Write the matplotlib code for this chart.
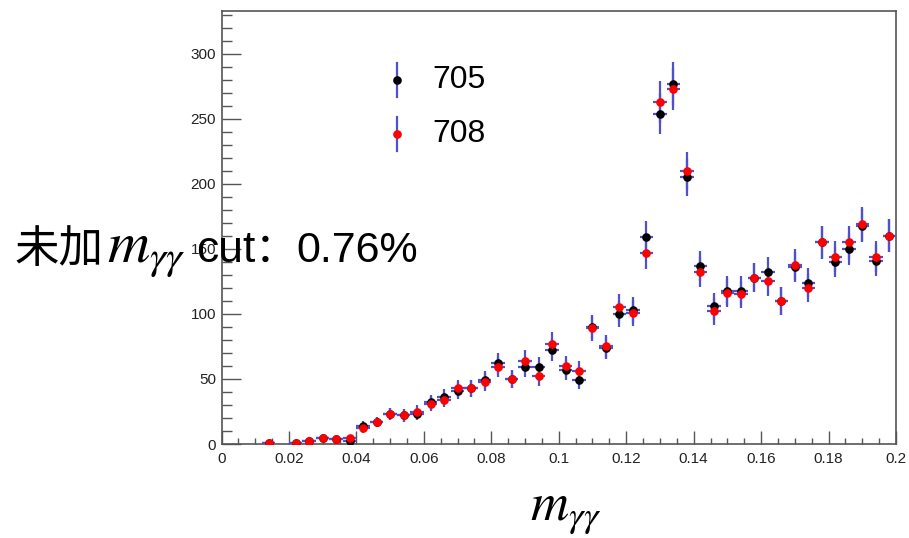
import numpy as np
import matplotlib
matplotlib.use('Agg')
import matplotlib.pyplot as plt
from matplotlib.ticker import MultipleLocator, FuncFormatter

plt.rcParams['mathtext.fontset'] = 'stix'

# bin centres (bin width 0.004)
x = [0.014, 0.022, 0.026, 0.030, 0.034, 0.038, 0.042, 0.046, 0.050, 0.054,
     0.058, 0.062, 0.066, 0.070, 0.074, 0.078, 0.082, 0.086, 0.090, 0.094,
     0.098, 0.102, 0.106, 0.110, 0.114, 0.118, 0.122, 0.126, 0.130, 0.134,
     0.138, 0.142, 0.146, 0.150, 0.154, 0.158, 0.162, 0.166, 0.170, 0.174,
     0.178, 0.182, 0.186, 0.190, 0.194, 0.198]

counts_705 = [1, 1, 2, 5, 4, 2, 14, 17, 23, 22,
              23, 32, 36, 41, 43, 49, 62, 50, 59, 59,
              72, 57, 49, 90, 74, 100, 103, 159, 254, 277,
              205, 137, 106, 118, 118, 128, 132, 110, 136, 124,
              155, 140, 150, 168, 141, 160]

counts_708 = [1, 1, 2, 5, 4, 5, 12, 17, 23, 22,
              25, 31, 34, 43, 43, 48, 59, 50, 64, 52,
              77, 60, 56, 89, 75, 105, 101, 147, 263, 273,
              210, 132, 102, 116, 115, 128, 125, 110, 138, 120,
              155, 144, 155, 169, 144, 160]

bin_width = 0.004
labels = ['705', '708']

fig = plt.figure(figsize=(9.09, 5.38), dpi=100)
ax = fig.add_axes([0.2437, 0.1747, 0.9857 - 0.2437, 0.9796 - 0.1747])

err_col = '#5050cc'
for yv, col in [(counts_705, 'black'), (counts_708, 'red')]:
    yv = np.array(yv, dtype=float)
    ax.errorbar(x, yv, yerr=np.sqrt(yv), xerr=bin_width / 2, fmt='o',
                color=col, markersize=5.2, ecolor=err_col, elinewidth=1.6,
                capsize=0, zorder=3)

ax.set_xlim(0, 0.2)
ax.set_ylim(0, 333)

# ROOT-like axes
ax.xaxis.set_major_locator(MultipleLocator(0.02))
ax.xaxis.set_minor_locator(MultipleLocator(0.005))
ax.yaxis.set_major_locator(MultipleLocator(50))
ax.yaxis.set_minor_locator(MultipleLocator(10))
ax.xaxis.set_major_formatter(FuncFormatter(lambda v, p: '%g' % round(v, 3)))
ax.tick_params(axis='x', which='major', direction='in', length=9.5, width=1,
               color='#555555', labelsize=11, pad=6, labelcolor='#222222')
ax.tick_params(axis='x', which='minor', direction='in', length=4.6, width=1,
               color='#555555')
ax.tick_params(axis='y', which='major', direction='in', length=14, width=1,
               color='#555555', labelsize=11, pad=4, labelcolor='#222222')
ax.tick_params(axis='y', which='minor', direction='in', length=7, width=1,
               color='#555555')
for lab in ax.get_xticklabels() + ax.get_yticklabels():
    lab.set_fontfamily('Liberation Sans')
for s in ax.spines.values():
    s.set_color('#555555')
    s.set_linewidth(1.2)

# legend drawn by hand, ROOT style
for i, (lab, col) in enumerate(zip(labels, ['black', 'red'])):
    yy = 0.8406 - i * 0.1247
    ax.plot([0.260, 0.260], [yy - 0.039, yy + 0.039], color=err_col, lw=1.6,
            transform=ax.transAxes)
    ax.plot([0.260], [yy], 'o', color=col, markersize=5.2, transform=ax.transAxes)
    ax.text(0.312, yy, lab, transform=ax.transAxes, fontsize=23,
            family='Liberation Sans', va='center', ha='left')

fig.text(566 / 909, 1 - 510 / 538, r'$m_{\gamma\gamma}$', fontsize=38,
         ha='center', va='center')

# overlay note, built piece by piece so each part can have its own font
latin = ['Liberation Sans', 'DejaVu Sans']
cjk = ['Noto Sans CJK SC', 'DejaVu Sans']
pieces = [('未加', cjk, 32, 0),
          (r'$m_{\gamma\gamma}$', cjk, 42, 3),
          ('cut', latin, 32, 10),
          ('：', cjk, 30, 0),
          ('0.76%', latin, 31, 0)]
renderer = fig.canvas.get_renderer()
xpos = 15
base_y = 1 - 262 / 538
for txt, fam, size, gap in pieces:
    t = fig.text((xpos + gap) / 909, base_y, txt, fontsize=size, family=fam,
                 ha='left', va='baseline')
    bb = t.get_window_extent(renderer=renderer)
    xpos = bb.x1

fig.savefig('out.png', dpi=100)
